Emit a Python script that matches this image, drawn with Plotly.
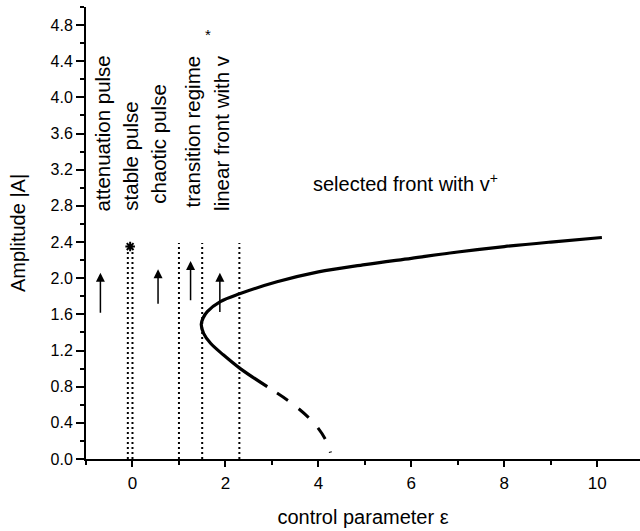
import plotly.graph_objects as go

# Solid branch (lower end -> vertex -> upper end)
solid_x = [2.90, 2.32, 1.96, 1.68, 1.53, 1.48, 1.52, 1.61, 1.89, 2.32, 3.11, 4.00, 5.00, 6.00, 7.00, 8.00, 9.00, 10.10]
solid_y = [0.80, 1.00, 1.15, 1.28, 1.39, 1.49, 1.56, 1.63, 1.74, 1.83, 1.96, 2.07, 2.15, 2.22, 2.29, 2.35, 2.40, 2.45]

# Dashed (unstable) continuation of lower branch
dash_x = [3.11, 3.47, 3.90, 4.17, 4.26]
dash_y = [0.73, 0.60, 0.40, 0.20, 0.07]

# Regime boundaries (dotted verticals)
boundary_x = [-0.10, 0.00, 1.00, 1.50, 2.30]
boundary_top = [2.32, 2.32, 2.39, 2.39, 2.39]

# Arrows
arrow_x = [-0.69, 0.55, 1.25, 1.88]
arrow_y0 = [1.60, 1.70, 1.74, 1.61]
arrow_y1 = [2.06, 2.10, 2.19, 2.06]

# Stable pulse marker
star_x = [-0.05]
star_y = [2.35]

# Rotated regime labels
label_text = ["attenuation pulse", "stable pulse", "chaotic pulse", "transition regime", "linear front with v"]
label_x = [-0.65, -0.03, 0.57, 1.30, 1.90]
label_y = [2.72, 2.72, 2.80, 2.76, 2.72]

FONT = "Liberation Sans, Arial, sans-serif"

fig = go.Figure()

for bx, bt in zip(boundary_x, boundary_top):
    fig.add_trace(go.Scatter(x=[bx, bx], y=[0, bt], mode="lines",
                             line=dict(color="black", width=2, dash="2px,3px"),
                             showlegend=False, hoverinfo="skip"))

fig.add_trace(go.Scatter(x=solid_x, y=solid_y, mode="lines",
                         line=dict(color="black", width=3.2, shape="spline", smoothing=1.0),
                         showlegend=False))
fig.add_trace(go.Scatter(x=dash_x, y=dash_y, mode="lines",
                         line=dict(color="black", width=3, dash="13px,14px", shape="spline"),
                         showlegend=False))
fig.add_trace(go.Scatter(x=star_x, y=star_y, mode="markers",
                         marker=dict(symbol="asterisk-open", size=8, color="black",
                                     line=dict(color="black", width=2)),
                         showlegend=False))

for ax_, y0, y1 in zip(arrow_x, arrow_y0, arrow_y1):
    fig.add_annotation(x=ax_, y=y1, ax=ax_, ay=y0, xref="x", yref="y", axref="x", ayref="y",
                       showarrow=True, arrowhead=2, arrowsize=1.2, arrowwidth=1.5,
                       arrowcolor="black", text="")

for t, lx, ly in zip(label_text, label_x, label_y):
    fig.add_annotation(x=lx, y=ly, xref="x", yref="y", text=t, showarrow=False,
                       textangle=-90, xanchor="center", yanchor="bottom",
                       font=dict(family=FONT, size=20.5, color="black"))

fig.add_annotation(x=1.63, y=4.70, xref="x", yref="y", text="*", showarrow=False,
                   font=dict(family=FONT, size=15, color="black"))

fig.add_annotation(x=3.85, y=3.06, xref="x", yref="y", text="selected front with v<sup>+</sup>",
                   showarrow=False, xanchor="left", yanchor="middle",
                   font=dict(family=FONT, size=20, color="black"))

fig.update_layout(
    width=640, height=531,
    margin=dict(l=86, r=0, t=7, b=72),
    plot_bgcolor="white", paper_bgcolor="white",
    font=dict(family=FONT, color="black"),
    showlegend=False,
)
fig.update_xaxes(range=[-1, 10.92], showline=True, linecolor="black", linewidth=2,
                 showgrid=False, zeroline=False, ticks="outside", tickvals=[0, 2, 4, 6, 8, 10],
                 ticklen=6, tickwidth=2, tickcolor="black", ticklabelstandoff=2,
                 minor=dict(tickvals=[-1, 1, 3, 5, 7, 9], ticks="outside", ticklen=4, tickwidth=2, tickcolor="black"),
                 tickfont=dict(family=FONT, size=17),
                 title=dict(text="control parameter ε", font=dict(family=FONT, size=20), standoff=18))
fig.update_yaxes(range=[0, 5], showline=True, linecolor="black", linewidth=2,
                 showgrid=False, zeroline=False, ticks="outside", dtick=0.4, tick0=0, tickformat=".1f",
                 ticklen=8, tickwidth=2, tickcolor="black",
                 minor=dict(dtick=0.2, ticks="outside", ticklen=4, tickwidth=2, tickcolor="black"),
                 tickfont=dict(family=FONT, size=16),
                 title=dict(text="Amplitude |A|", font=dict(family=FONT, size=20), standoff=20))

fig.write_html("out.html")
